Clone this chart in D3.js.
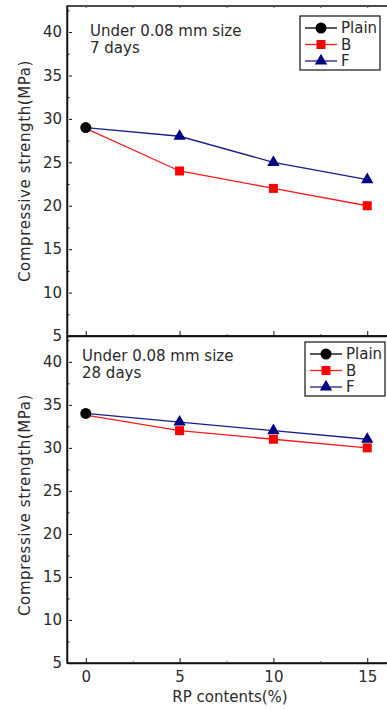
<!DOCTYPE html>
<html>
<head>
<meta charset="utf-8">
<script src="https://cdnjs.cloudflare.com/ajax/libs/d3/7.8.5/d3.min.js"></script>
<style>
  html, body { margin: 0; padding: 0; background: #fff; }
  svg text { font-family: 'DejaVu Sans', Arial, sans-serif; fill: #2a2a2a; }
</style>
</head>
<body>
<div id="chart"></div>
<script>
// RP contents (%) on the x axis
const contents = [0, 5, 10, 15];
const seriesNames = ['Plain', 'B', 'F'];

// 7 days compressive strength (MPa)
const plain7 = [29];
const b7 = [28.9, 24, 22, 20];
const f7 = [29, 28, 25, 23];

// 28 days compressive strength (MPa)
const plain28 = [34];
const b28 = [33.8, 32, 31, 30];
const f28 = [34, 33, 32, 31];

const yTicks = [5, 10, 15, 20, 25, 30, 35, 40];
const xTicks = [0, 5, 10, 15];

const width = 387;
const height = 711;

const svg = d3.select('#chart')
  .append('svg')
  .attr('width', width)
  .attr('height', height);

const x = d3.scaleLinear().domain([-1, 16]).range([67, 386]);

const colors = { Plain: '#000', B: '#ff1a1a', F: '#1c1c8a' };
const markerFill = { Plain: '#000', B: '#ff0000', F: '#000080' };
const symbols = {
  Plain: d3.symbol().type(d3.symbolCircle).size(95),
  B: d3.symbol().type(d3.symbolSquare).size(81),
  F: d3.symbol().type(d3.symbolTriangle).size(66)
};

/**
 * Draw one panel of the stacked chart
 */
function drawPanel(p) {
  const y = d3.scaleLinear().domain([5, 43]).range([p.bottom, p.top]);
  const g = svg.append('g');

  // Frame: top, left, bottom (right side is cut off in the original)
  const [x0, x1] = x.range();
  g.append('path')
    .attr('d', `M${x1 + 2},${p.top}H${x0}V${p.bottom}H${x1 + 2}`)
    .attr('fill', 'none')
    .attr('stroke', '#111')
    .attr('stroke-width', 1.3);

  // Left axis, major + minor ticks
  const left = g.append('g')
    .attr('transform', `translate(${x0},0)`)
    .call(d3.axisLeft(y).tickValues(yTicks).tickSizeInner(-5).tickSizeOuter(0).tickPadding(5));
  left.select('.domain').attr('stroke', '#111').attr('stroke-width', 1.5);
  left.selectAll('.tick line').attr('stroke', '#111').attr('x1', 2);
  left.selectAll('.tick text')
    .style('font-family', "'DejaVu Sans', Arial, sans-serif")
    .style('font-size', '15px')
    .attr('fill', '#2a2a2a');

  g.append('g')
    .attr('transform', `translate(${x0},0)`)
    .call(d3.axisLeft(y).tickValues(yTicks.map(v => v + 2.5)).tickSizeInner(-2.5).tickSizeOuter(0).tickFormat(''))
    .call(s => s.select('.domain').remove())
    .selectAll('.tick line').attr('stroke', '#111');

  // Bottom axis (ticks inward)
  const bottom = g.append('g')
    .attr('transform', `translate(0,${p.bottom})`)
    .call(d3.axisBottom(x).tickValues(xTicks).tickSizeInner(-5).tickSizeOuter(0).tickPadding(8)
      .tickFormat(p.xLabels ? d3.format('d') : ''));
  bottom.select('.domain').attr('stroke', '#111').attr('stroke-width', 1.5);
  bottom.selectAll('.tick line').attr('stroke', '#111');
  bottom.selectAll('.tick text')
    .style('font-family', "'DejaVu Sans', Arial, sans-serif")
    .style('font-size', '15px')
    .attr('fill', '#2a2a2a');

  g.append('g')
    .attr('transform', `translate(0,${p.bottom})`)
    .call(d3.axisBottom(x).tickValues([2.5, 7.5, 12.5]).tickSizeInner(-2).tickSizeOuter(0).tickFormat(''))
    .call(s => s.select('.domain').remove())
    .selectAll('.tick line').attr('stroke', '#555');

  // Top mirror ticks (only on the upper panel)
  if (p.topTicks) {
    g.append('g')
      .attr('transform', `translate(0,${p.top})`)
      .call(d3.axisTop(x).tickValues([0, 2.5, 5, 7.5, 10, 12.5, 15]).tickSizeInner(-2).tickSizeOuter(0).tickFormat(''))
      .call(s => s.select('.domain').remove())
      .selectAll('.tick line').attr('stroke', '#555');
  }

  // Y axis title
  g.append('text')
    .attr('transform', `translate(30,${p.titleY}) rotate(-90)`)
    .attr('text-anchor', 'middle')
    .style('font-size', '15px')
    .style('letter-spacing', '0.6px')
    .text('Compressive strength(MPa)');

  // Annotation
  const note = g.append('text')
    .style('font-size', '15px');
  note.append('tspan').attr('x', p.noteX).attr('y', p.noteY).text('Under 0.08 mm size');
  note.append('tspan').attr('x', p.noteX).attr('y', p.noteY + 16.5).text(p.age);

  // Lines
  const line = d3.line()
    .x(d => x(d[0]))
    .y(d => y(d[1]));

  const series = [
    { name: 'B', values: p.b },
    { name: 'F', values: p.f }
  ];

  series.forEach(s => {
    const pts = contents.map((c, i) => [c, s.values[i]]);
    g.append('path')
      .datum(pts)
      .attr('d', line)
      .attr('fill', 'none')
      .attr('stroke', colors[s.name])
      .attr('stroke-width', 1.3);

    g.selectAll(null)
      .data(pts.slice(1))
      .enter()
      .append('path')
      .attr('d', symbols[s.name])
      .attr('transform', d => `translate(${x(d[0])},${y(d[1])})`)
      .attr('fill', markerFill[s.name]);
  });

  // Plain point on top
  g.selectAll(null)
    .data(p.plain.map((v, i) => [contents[i], v]))
    .enter()
    .append('path')
    .attr('d', symbols.Plain)
    .attr('transform', d => `translate(${x(d[0])},${y(d[1])})`)
    .attr('fill', markerFill.Plain);

  // Legend
  const lg = g.append('g').attr('transform', `translate(${p.legendX},${p.legendY})`);
  lg.append('rect')
    .attr('width', 80)
    .attr('height', 54)
    .attr('fill', '#fff')
    .attr('stroke', '#111')
    .attr('stroke-width', 1.2);

  seriesNames.forEach((name, i) => {
    const ey = 12 + i * 16.5;
    lg.append('line')
      .attr('x1', 5).attr('x2', 37)
      .attr('y1', ey).attr('y2', ey)
      .attr('stroke', colors[name])
      .attr('stroke-width', 1.3);
    lg.append('path')
      .attr('d', symbols[name])
      .attr('transform', `translate(21,${ey})`)
      .attr('fill', markerFill[name]);
    lg.append('text')
      .attr('x', 41)
      .attr('y', ey)
      .attr('dy', '0.36em')
      .style('font-size', '15px')
      .text(name);
  });
}

drawPanel({
  top: 6, bottom: 336, age: '7 days',
  plain: plain7, b: b7, f: f7,
  noteX: 90, noteY: 36, titleY: 171,
  legendX: 300, legendY: 16, xLabels: false, topTicks: true
});

drawPanel({
  top: 336, bottom: 663, age: '28 days',
  plain: plain28, b: b28, f: f28,
  noteX: 82, noteY: 361, titleY: 505,
  legendX: 305, legendY: 342, xLabels: true, topTicks: false
});

// X axis title
svg.append('text')
  .attr('x', 230)
  .attr('y', 702)
  .attr('text-anchor', 'middle')
  .style('font-size', '15px')
  .text('RP contents(%)');
</script>
</body>
</html>
